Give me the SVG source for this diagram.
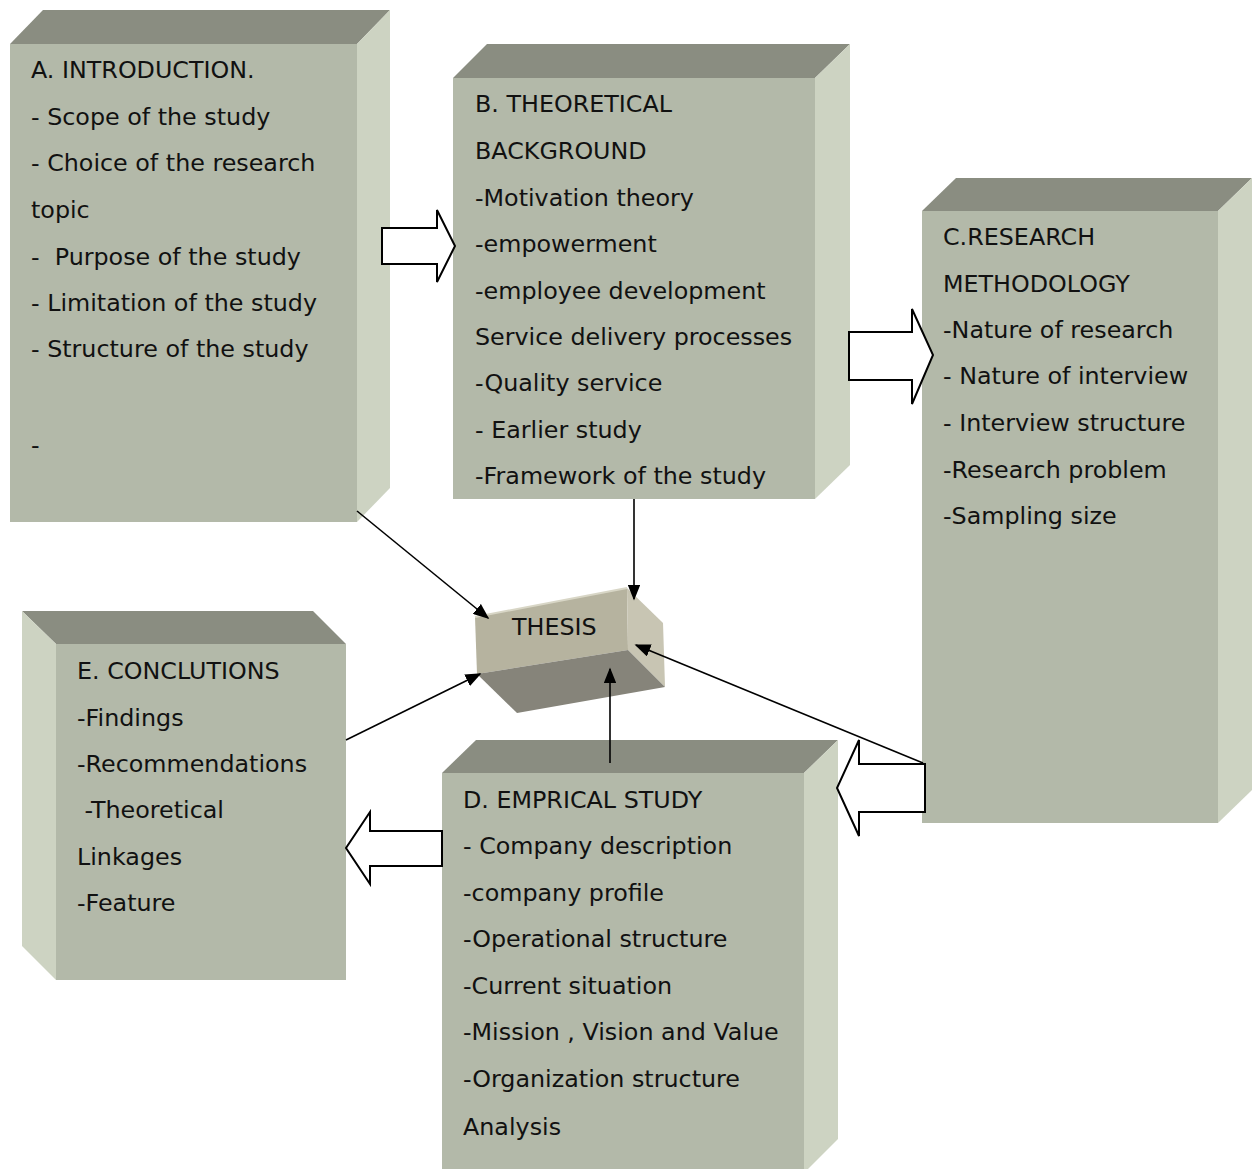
<svg xmlns="http://www.w3.org/2000/svg" width="1258" height="1169" viewBox="0 0 1258 1169">
<style>
.front{fill:#b3b9a9}
.top{fill:#8a8d81}
.side{fill:#cdd3c2}
.t{font-family:"DejaVu Sans",sans-serif;font-size:23.8px;fill:#111;white-space:pre}
.blk{fill:#fff;stroke:#000;stroke-width:2}
.ln{stroke:#000;stroke-width:1.6;fill:none}
</style>
<defs>
<marker id="ah" markerWidth="10" markerHeight="8" refX="9" refY="4" orient="auto" markerUnits="strokeWidth">
<path d="M0,0 L10,4 L0,8 Z" fill="#000"/>
</marker>
</defs>
<rect width="1258" height="1169" fill="#fff"/>

<g id="nodeA">
<polygon class="top" points="10,44 43,10 390,10 357,44"/>
<polygon class="side" points="357,44 390,10 390,488 357,522"/>
<rect class="front" x="10" y="44" width="347" height="478"/>
<g class="t">
<text x="31" y="78">A. INTRODUCTION.</text>
<text x="31" y="125">- Scope of the study</text>
<text x="31" y="171">- Choice of the research</text>
<text x="31" y="218">topic</text>
<text x="31" y="265" xml:space="preserve">-  Purpose of the study</text>
<text x="31" y="311">- Limitation of the study</text>
<text x="31" y="357">- Structure of the study</text>
<text x="31" y="453">-</text>
</g>
</g>

<g id="nodeB">
<polygon class="top" points="453,78 487,44 850,44 815,78"/>
<polygon class="side" points="815,78 850,44 850,465 815,499"/>
<rect class="front" x="453" y="78" width="362" height="421"/>
<g class="t">
<text x="475" y="112">B. THEORETICAL</text>
<text x="475" y="159">BACKGROUND</text>
<text x="475" y="206">-Motivation theory</text>
<text x="475" y="252">-empowerment</text>
<text x="475" y="299">-employee development</text>
<text x="475" y="345">Service delivery processes</text>
<text x="475" y="391">-Quality service</text>
<text x="475" y="438">- Earlier study</text>
<text x="475" y="484">-Framework of the study</text>
</g>
</g>

<g id="nodeC">
<polygon class="top" points="922,211 956,178 1252,178 1218,211"/>
<polygon class="side" points="1218,211 1252,178 1252,790 1218,823"/>
<rect class="front" x="922" y="211" width="296" height="612"/>
<g class="t">
<text x="943" y="245">C.RESEARCH</text>
<text x="943" y="292">METHODOLOGY</text>
<text x="943" y="338">-Nature of research</text>
<text x="943" y="384">- Nature of interview</text>
<text x="943" y="431">- Interview structure</text>
<text x="943" y="478">-Research problem</text>
<text x="943" y="524">-Sampling size</text>
</g>
</g>

<g id="nodeD">
<polygon class="top" points="442,773 476,740 838,740 804,773"/>
<polygon class="side" points="804,773 838,740 838,1139 804,1173"/>
<rect class="front" x="442" y="773" width="362" height="400"/>
<g class="t">
<text x="463" y="808">D. EMPRICAL STUDY</text>
<text x="463" y="854">- Company description</text>
<text x="463" y="901">-company profile</text>
<text x="463" y="947">-Operational structure</text>
<text x="463" y="994">-Current situation</text>
<text x="463" y="1040">-Mission , Vision and Value</text>
<text x="463" y="1087">-Organization structure</text>
<text x="463" y="1135">Analysis</text>
</g>
</g>

<g id="nodeE">
<polygon class="top" points="22,611 313,611 346,644 56,644"/>
<polygon class="side" points="22,611 56,644 56,980 22,946"/>
<rect class="front" x="56" y="644" width="290" height="336"/>
<g class="t">
<text x="77" y="679">E. CONCLUTIONS</text>
<text x="77" y="726">-Findings</text>
<text x="77" y="772">-Recommendations</text>
<text x="77" y="818" xml:space="preserve"> -Theoretical</text>
<text x="77" y="865">Linkages</text>
<text x="77" y="911">-Feature</text>
</g>
</g>

<g id="thesis">
<polygon fill="#b6b39f" points="475,617 627,588 628,650 477,674"/>
<polygon fill="#c8c5b3" points="627,588 663,623 665,687 628,650"/>
<polygon fill="#86847a" points="477,674 628,650 665,687 517,713"/>
<polyline points="475,617 627,588" stroke="#d8d6c6" stroke-width="2" fill="none"/>
<text class="t" x="512" y="635">THESIS</text>
</g>

<g id="connectors">
<polygon class="blk" points="382,228 437,228 437,210 455,246 437,282 437,264 382,264"/>
<polygon class="blk" points="849,332 912,332 912,309 933,355 912,404 912,380 849,380"/>
<polygon class="blk" points="925,764 859,764 859,740 837,788 859,836 859,812 925,812"/>
<polygon class="blk" points="442,831 370,831 370,812 346,848 370,884 370,866 442,866"/>
<line class="ln" x1="357" y1="511" x2="488" y2="618" marker-end="url(#ah)"/>
<line class="ln" x1="634" y1="499" x2="634" y2="599" marker-end="url(#ah)"/>
<line class="ln" x1="346" y1="740" x2="480" y2="674" marker-end="url(#ah)"/>
<line class="ln" x1="610" y1="763" x2="610" y2="669" marker-end="url(#ah)"/>
<line class="ln" x1="923" y1="763" x2="636" y2="645" marker-end="url(#ah)"/>
</g>
</svg>
